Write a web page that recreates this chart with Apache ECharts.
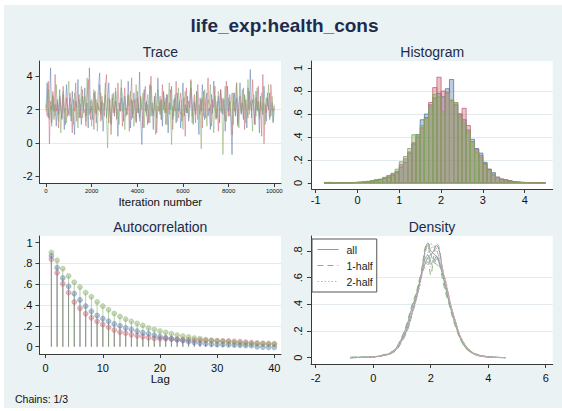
<!DOCTYPE html>
<html><head><meta charset="utf-8">
<script src="https://cdn.jsdelivr.net/npm/echarts@6/dist/echarts.min.js"></script>
<style>html,body{margin:0;padding:0;background:#fff}#c{width:562px;height:411px}</style>
</head><body><div id="c"></div>
<script>
// ---------- data ----------
const traceStep = 50; // iterations between plotted draws
const traceBlue = [
2.1,3.6,1.5,2.4,4.5,1.2,2.8,1.9,2.3,1.0,
2.6,1.7,3.2,2.0,1.4,2.9,0.8,2.2,3.5,1.6,
2.0,2.7,1.3,3.1,1.9,0.5,2.5,2.1,3.8,1.5,
2.3,1.1,2.8,2.0,3.3,1.6,2.4,0.9,4.5,1.8,
2.2,1.4,3.0,2.6,1.2,2.1,3.4,4.2,1.7,2.5,
0.7,2.0,2.9,1.5,2.3,3.6,1.8,1.1,2.7,2.2,
1.6,3.1,2.0,0.4,2.4,1.9,3.3,2.5,1.3,2.8,
2.1,1.7,3.7,2.2,0.9,2.6,1.5,3.0,2.0,1.2,
2.7,1.8,4.25,1.4,-0.1,2.3,3.2,1.9,2.5,1.1,
2.0,3.5,1.6,2.4,0.8,2.8,2.1,1.5,3.9,2.2,
1.7,2.6,1.0,3.1,2.3,1.8,2.9,0.6,2.4,2.0,
3.4,1.4,2.2,2.7,1.2,3.0,1.9,2.5,0.9,2.1,
3.6,1.6,2.3,1.8,2.8,1.3,2.0,3.3,2.6,1.1,
2.4,1.7,3.1,2.0,0.5,2.7,1.9,3.5,2.2,1.4,
2.5,3.0,1.6,2.1,0.8,2.9,1.8,3.7,2.3,1.5,
2.0,2.8,1.2,3.2,2.4,1.7,2.6,0.7,2.1,3.4,
1.9,2.5,1.3,-0.7,2.2,3.0,1.6,2.7,1.0,2.3,
3.6,1.8,2.4,1.4,2.9,2.1,0.9,3.3,2.0,4.4,
1.5,2.6,2.2,1.1,3.1,1.9,2.5,0.6,2.8,2.0,
1.7,3.4,2.3,1.3,2.7,2.0,3.0,1.6,2.4,1.2,2.1];
const traceGreen = [
1.9,2.6,3.2,1.4,2.2,1.0,2.9,2.3,1.6,3.5,
2.0,1.3,2.7,0.6,2.4,3.1,1.8,2.1,1.2,2.8,
3.7,1.6,2.3,2.0,1.1,3.0,2.5,1.7,0.9,2.6,
2.2,3.4,1.5,2.1,2.8,1.3,3.9,2.0,1.7,2.5,
1.0,2.3,3.2,1.8,2.6,0.7,2.2,1.9,3.0,1.4,
2.4,2.0,3.6,1.6,-0.3,2.7,2.1,1.2,2.9,1.8,
2.3,3.3,1.5,2.0,1.1,2.6,3.8,1.9,2.4,0.8,
2.1,1.7,2.8,2.2,3.1,1.4,2.5,1.0,2.0,3.5,
1.8,2.3,1.3,2.7,2.0,3.0,0.9,2.4,1.6,2.9,
2.2,1.2,3.4,2.0,1.7,2.6,0.5,2.3,3.2,1.9,
2.5,1.4,2.1,3.0,1.8,2.7,1.1,2.4,3.6,2.0,
-0.1,2.2,1.6,2.9,2.3,1.3,3.3,2.0,1.7,2.6,
0.8,2.4,3.1,1.9,2.2,1.5,2.8,3.7,1.2,2.1,
2.5,1.8,3.0,1.4,2.3,2.0,-0.35,2.7,1.6,3.2,
2.1,1.0,2.6,2.3,3.5,1.7,2.0,0.6,2.8,2.2,
1.5,3.1,2.4,1.9,2.6,-0.7,2.2,3.4,1.3,2.0,
2.7,1.6,2.3,3.0,1.1,2.5,1.8,3.6,2.1,0.9,
2.4,2.0,3.2,1.5,2.8,1.2,2.2,3.8,1.7,2.5,
2.0,0.7,2.9,2.3,1.6,3.3,2.1,1.4,2.6,3.0,
1.9,2.4,1.1,2.7,2.2,3.5,1.5,2.0,2.8,1.3,2.3];
const traceRed = [
2.3,1.6,3.7,-0.05,2.5,2.0,3.1,1.4,4.1,1.9,
2.4,0.9,2.8,2.1,1.5,3.4,2.2,1.1,2.7,2.0,
1.7,3.0,2.3,0.6,2.6,1.9,3.6,1.3,2.2,2.9,
1.5,2.4,3.2,1.8,2.0,1.0,2.7,3.8,2.1,1.4,
2.6,2.2,0.8,3.1,1.7,2.4,2.0,3.5,1.3,2.8,
2.1,1.6,3.3,4.1,2.3,1.2,2.6,0.5,2.0,3.0,
1.8,2.5,1.4,3.6,2.2,1.9,2.7,1.0,2.4,3.3,
1.6,2.1,2.9,0.7,2.3,3.9,1.7,2.0,2.6,1.3,
3.1,2.2,1.5,2.8,2.0,0.9,2.5,3.4,1.8,2.3,
1.2,2.7,4.0,2.1,1.6,2.4,3.0,0.6,2.2,1.9,
2.8,1.4,3.5,2.0,2.5,1.1,2.9,2.3,1.7,3.2,
2.1,0.8,2.6,1.9,3.7,2.2,1.5,2.4,3.0,1.3,
2.0,2.7,0.4,3.3,1.8,2.5,2.1,3.8,1.6,2.3,
2.9,1.2,2.4,3.5,2.0,1.7,2.6,0.9,3.1,2.2,
1.5,2.8,3.9,1.9,2.3,1.0,2.6,2.1,3.4,1.4,
2.5,0.7,2.0,3.2,1.8,2.7,2.2,1.3,3.7,2.4,
1.6,2.9,2.1,0.5,3.0,1.9,2.5,3.6,1.2,2.3,
2.8,1.7,2.2,3.3,0.8,2.6,2.0,1.5,3.1,2.4,
1.9,3.8,2.2,1.1,2.7,2.0,3.4,1.6,2.5,0.4,
4.1,-0.05,2.3,1.8,3.0,2.1,1.4,3.5,2.6,1.9,2.2];

const histStart = -0.8, histWidth = 0.1;
const histBlue = [0,0,0,0.003,0.003,0.003,0.003,0.005,0.006,0.008,0.012,0.016,0.022,0.03,0.04,0.05,0.07,0.09,0.14,0.18,0.26,0.34,0.42,0.55,0.6,0.68,0.74,0.78,0.75,0.82,0.9,0.68,0.6,0.55,0.46,0.38,0.3,0.26,0.18,0.12,0.09,0.05,0.035,0.025,0.02,0.012,0.008,0.006,0.004,0.003,0.002,0.002,0.002];
const histGreen = [0.006,0.006,0,0,0.002,0.003,0.003,0.004,0.008,0.01,0.015,0.022,0.03,0.035,0.05,0.06,0.085,0.12,0.185,0.23,0.3,0.42,0.42,0.5,0.56,0.66,0.77,0.75,0.62,0.78,0.72,0.7,0.58,0.52,0.44,0.36,0.27,0.22,0.16,0.11,0.08,0.05,0.03,0.02,0.015,0.01,0.006,0.004,0.003,0.002,0,0,0];
const histRed = [0,0,0,0,0,0.002,0.003,0.005,0.007,0.01,0.012,0.018,0.025,0.03,0.045,0.065,0.08,0.1,0.16,0.21,0.27,0.35,0.4,0.48,0.57,0.7,0.83,0.92,0.8,0.79,0.72,0.7,0.6,0.65,0.5,0.36,0.29,0.24,0.17,0.12,0.07,0.05,0.035,0.03,0.02,0.012,0.01,0.006,0.005,0.004,0.003,0,0];

const acfBlue = [0.873,0.76,0.66,0.58,0.51,0.45,0.39,0.34,0.30,0.27,0.245,0.22,0.20,0.18,0.166,0.15,0.134,0.125,0.11,0.096,0.086,0.077,0.067,0.058,0.048,0.04,0.034,0.028,0.024,0.02,0.02,0.018,0.016,0.014,0.012,0.01,0.0,-0.004,-0.006,-0.006];
const acfGreen = [0.906,0.83,0.75,0.68,0.62,0.573,0.52,0.48,0.43,0.39,0.355,0.32,0.29,0.265,0.243,0.224,0.205,0.18,0.166,0.15,0.138,0.125,0.112,0.102,0.093,0.083,0.077,0.067,0.06,0.054,0.05,0.045,0.04,0.036,0.033,0.03,0.028,0.026,0.025,0.024];
const acfRed = [0.84,0.71,0.605,0.52,0.43,0.37,0.317,0.278,0.243,0.214,0.186,0.16,0.14,0.13,0.115,0.105,0.096,0.086,0.08,0.077,0.077,0.074,0.07,0.068,0.066,0.064,0.062,0.06,0.06,0.058,0.056,0.055,0.052,0.048,0.044,0.04,0.036,0.032,0.03,0.028];

const densX = [-0.8,-0.6,-0.4,-0.2,0,0.2,0.4,0.6,0.8,1.0,1.1,1.2,1.3,1.4,1.5,1.6,1.7,1.8,1.9,2.0,2.1,2.2,2.3,2.4,2.5,2.6,2.7,2.8,2.9,3.0,3.2,3.4,3.6,3.8,4.0,4.2,4.4,4.6];
const densBlueAll = [0,0.002,0.003,0.004,0.006,0.01,0.018,0.03,0.06,0.13,0.17,0.22,0.29,0.37,0.45,0.55,0.64,0.7,0.75,0.77,0.8,0.84,0.8,0.68,0.56,0.46,0.38,0.3,0.23,0.17,0.09,0.045,0.022,0.012,0.006,0.003,0.002,0.001];
const densGreenAll = [0.002,0.004,0.003,0.004,0.007,0.012,0.022,0.035,0.07,0.15,0.2,0.26,0.34,0.41,0.47,0.55,0.64,0.74,0.77,0.7,0.72,0.76,0.72,0.64,0.54,0.45,0.37,0.29,0.22,0.16,0.08,0.04,0.018,0.01,0.005,0.003,0.001,0];
const densRedAll = [0,0.001,0.002,0.003,0.006,0.011,0.02,0.032,0.07,0.14,0.18,0.23,0.3,0.37,0.45,0.54,0.66,0.8,0.86,0.8,0.78,0.76,0.71,0.65,0.58,0.49,0.39,0.31,0.24,0.17,0.09,0.045,0.025,0.013,0.007,0.004,0.002,0.001];
const densBlueH1 = [0,0.002,0.004,0.005,0.007,0.012,0.02,0.03,0.055,0.12,0.16,0.21,0.28,0.39,0.48,0.58,0.64,0.68,0.72,0.62,0.75,0.86,0.82,0.66,0.54,0.45,0.38,0.31,0.24,0.17,0.09,0.05,0.025,0.012,0.006,0.003,0.002,0.001];
const densBlueH2 = [0,0.001,0.002,0.003,0.005,0.009,0.016,0.03,0.065,0.14,0.18,0.23,0.3,0.36,0.43,0.52,0.63,0.72,0.78,0.86,0.82,0.8,0.76,0.68,0.57,0.48,0.4,0.32,0.25,0.18,0.09,0.04,0.02,0.012,0.006,0.003,0.002,0.001];
const densGreenH1 = [0.003,0.005,0.004,0.004,0.008,0.013,0.025,0.04,0.075,0.16,0.21,0.28,0.36,0.43,0.49,0.57,0.66,0.78,0.85,0.72,0.7,0.74,0.7,0.6,0.5,0.43,0.35,0.27,0.21,0.15,0.075,0.04,0.02,0.01,0.005,0.002,0.001,0];
const densGreenH2 = [0.001,0.003,0.003,0.004,0.006,0.011,0.02,0.03,0.065,0.14,0.19,0.24,0.32,0.4,0.46,0.52,0.62,0.7,0.7,0.68,0.75,0.8,0.74,0.68,0.58,0.47,0.39,0.3,0.23,0.17,0.09,0.045,0.02,0.01,0.005,0.003,0.001,0];
const densRedH1 = [0,0.001,0.002,0.003,0.006,0.012,0.02,0.03,0.07,0.14,0.19,0.24,0.31,0.36,0.44,0.56,0.68,0.82,0.86,0.78,0.72,0.7,0.68,0.64,0.57,0.48,0.37,0.29,0.23,0.16,0.08,0.04,0.025,0.015,0.008,0.004,0.002,0.001];
const densRedH2 = [0,0.001,0.002,0.003,0.006,0.01,0.02,0.034,0.075,0.15,0.18,0.22,0.29,0.38,0.46,0.52,0.64,0.78,0.84,0.82,0.84,0.82,0.74,0.65,0.6,0.5,0.4,0.32,0.25,0.18,0.1,0.05,0.025,0.012,0.006,0.004,0.002,0.001];

const traceXTicks = [0,2000,4000,6000,8000,10000];
const traceYTicks = [-2,0,2,4];
const histXTicks = [-1,0,1,2,3,4];
const histYTicks = [0,0.2,0.4,0.6,0.8,1];
const acfXTicks = [0,10,20,30,40];
const acfYTicks = [0,0.2,0.4,0.6,0.8,1];
const densXTicks = [-2,0,2,4,6];
const densYTicks = [0,0.2,0.4,0.6,0.8];

// ---------- styling ----------
const FONT = '"Liberation Sans", Arial, sans-serif';
const BLUE = 'rgba(84,120,170,', GREEN = 'rgba(128,168,95,', RED = 'rgba(198,98,112,';
const AXC = '#3a3a3a';
const GRIDC = '#e3ebee';
const stataFmt = v => {
  if (v === 0) return '0';
  const s = String(+v.toFixed(3));
  return s.replace(/^0\./, '.').replace(/^-0\./, '-.');
};

function xAx(grid, min, max, split, ticks, fs, margin) {
  return {type:'value', gridIndex:grid, min, max, splitNumber:split,
    axisLine:{show:true, onZero:false, lineStyle:{color:AXC, width:1}},
    axisTick:{show:true, length:4, lineStyle:{color:AXC}, customValues:ticks},
    axisLabel:{customValues:ticks, fontSize:fs, fontFamily:FONT, color:'#111', margin, formatter:stataFmt},
    splitLine:{show:false}};
}
function yAx(grid, min, max, split, ticks, rotate, margin) {
  return {type:'value', gridIndex:grid, min, max, splitNumber:split,
    axisLine:{show:true, onZero:false, lineStyle:{color:AXC, width:1}},
    axisTick:{show:true, length:4, lineStyle:{color:AXC}, customValues:ticks},
    axisLabel:{customValues:ticks, fontSize:11, fontFamily:FONT, color:'#111', margin, rotate, formatter:stataFmt},
    splitLine:{show:true, showMinLine:false, showMaxLine:false, lineStyle:{color:GRIDC, width:1}}};
}

const grids = [
  {left:39.5, top:61, width:241.5, height:122},
  {left:311.7, top:61, width:241, height:128},
  {left:39.5, top:236, width:241.5, height:118},
  {left:311, top:236, width:241.7, height:128}
].map(g => Object.assign({show:true, backgroundColor:'#ffffff', borderWidth:0, containLabel:false}, g));

const xAxes = [
  xAx(0, -285, 10295, 5, traceXTicks, 6, 5),
  xAx(1, -1.096, 4.67, 5, histXTicks, 11, 5),
  xAx(2, -1.08, 41.17, 4, acfXTicks, 11, 8),
  xAx(3, -2.163, 6.243, 4, densXTicks, 11, 8)
];
const yAxes = [
  yAx(0, -2.4, 4.91, 4, traceYTicks, 0, 7),
  yAx(1, -0.052, 1.061, 5, histYTicks, 90, 8),
  yAx(2, -0.07, 1.064, 5, acfYTicks, 0, 7),
  yAx(3, -0.047, 0.912, 4, densYTicks, 90, 8)
];

const series = [];
// trace
[[traceBlue, BLUE],[traceRed, RED],[traceGreen, GREEN]].forEach(([arr, c]) => {
  series.push({type:'line', xAxisIndex:0, yAxisIndex:0, silent:true, symbol:'none', clip:false,
    data: arr.map((v,i) => [i*traceStep, v]),
    lineStyle:{color:c+'0.5)', width:1}});
});
// histogram
[[histBlue, BLUE],[histRed, RED],[histGreen, GREEN]].forEach(([arr, c]) => {
  series.push({type:'custom', xAxisIndex:1, yAxisIndex:1, silent:true,
    data: arr.map((h,i) => [histStart + i*histWidth, histStart + (i+1)*histWidth, h]),
    encode:{x:[0,1], y:2},
    renderItem:(params, api) => {
      const p0 = api.coord([api.value(0), api.value(2)]);
      const p1 = api.coord([api.value(1), 0]);
      return {type:'rect', shape:{x:p0[0], y:p0[1], width:p1[0]-p0[0], height:p1[1]-p0[1]},
        style:{fill:c+'0.38)', stroke:c+'0.8)', lineWidth:1}};
    }});
});
// autocorrelation stems + markers
[[acfRed, RED],[acfBlue, BLUE],[acfGreen, GREEN]].forEach(([arr, c]) => {
  series.push({type:'custom', xAxisIndex:2, yAxisIndex:2, silent:true,
    data: arr.map((v,i) => [i+1, v]),
    renderItem:(params, api) => {
      const top = api.coord([api.value(0), api.value(1)]);
      const base = api.coord([api.value(0), 0]);
      return {type:'line', shape:{x1:base[0], y1:base[1], x2:top[0], y2:top[1]},
        style:{stroke:c+'0.55)', lineWidth:1}};
    }});
});
[[acfRed, RED],[acfBlue, BLUE],[acfGreen, GREEN]].forEach(([arr, c]) => {
  series.push({type:'scatter', xAxisIndex:2, yAxisIndex:2, silent:true, symbol:'circle', symbolSize:5,
    data: arr.map((v,i) => [i+1, v]),
    itemStyle:{color:c+'0.55)', borderColor:c+'0.7)', borderWidth:0.6}});
});
// density
const ALLC = '#8e95b4', H1C = '#86b77f', H2C = '#d8a6ba';
[[densBlueAll,'all'],[densGreenAll,'all'],[densRedAll,'all'],
 [densBlueH1,'1-half'],[densGreenH1,'1-half'],[densRedH1,'1-half'],
 [densBlueH2,'2-half'],[densGreenH2,'2-half'],[densRedH2,'2-half']].forEach(([arr, name]) => {
  const col = name === 'all' ? ALLC : name === '1-half' ? H1C : H2C;
  const typ = name === 'all' ? 'solid' : name === '1-half' ? [6,4] : [1.5,2];
  series.push({type:'line', name, xAxisIndex:3, yAxisIndex:3, silent:true, symbol:'none', smooth:0.35,
    data: densX.map((x,i) => [x, arr[i]]),
    color: col,
    lineStyle:{color:col, width:1, type:typ}});
});

const TC = '#1c2b4e';
const txt = (x, y, text, font, fill, align) => ({type:'text', x, y, silent:true,
  style:{text, font, fill: fill || TC, align: align || 'center', verticalAlign:'middle'}});

const option = {
  animation:false,
  backgroundColor:'#ffffff',
  grid: grids,
  xAxis: xAxes,
  yAxis: yAxes,
  legend: {data:['all','1-half','2-half'], orient:'vertical', left:312, top:239,
    itemWidth:21, itemHeight:12, itemGap:5, padding:[5,4,5,5], selectedMode:false,
    itemStyle:{color:'rgba(0,0,0,0)', borderColor:'rgba(0,0,0,0)', borderWidth:0, opacity:0},
    lineStyle:{width:1},
    backgroundColor:'#ffffff', borderColor:'#555555', borderWidth:1, borderRadius:0,
    textStyle:{fontSize:10.5, fontFamily:FONT, color:'#222', padding:[0,0,0,3]}},
  graphic: {elements: [
    {type:'rect', z:-100, silent:true, shape:{x:4, y:5, width:558, height:403}, style:{fill:'#eaf2f3'}},
    txt(284.5, 25, 'life_exp:health_cons', 'bold 19px ' + FONT),
    txt(160.3, 51.5, 'Trace', '14px ' + FONT),
    txt(432.2, 51.5, 'Histogram', '14px ' + FONT),
    txt(160.3, 226.5, 'Autocorrelation', '14px ' + FONT),
    txt(432, 226.5, 'Density', '14px ' + FONT),
    txt(160.3, 201.5, 'Iteration number', '11.5px ' + FONT, '#111'),
    txt(160.3, 379, 'Lag', '11.5px ' + FONT, '#111'),
    txt(15, 398.5, 'Chains: 1/3', '10.5px ' + FONT, '#111', 'left')
  ]},
  series
};
const chart = echarts.init(document.getElementById('c'), null, {renderer:'svg', width:562, height:411});
chart.setOption(option);
</script></body></html>
